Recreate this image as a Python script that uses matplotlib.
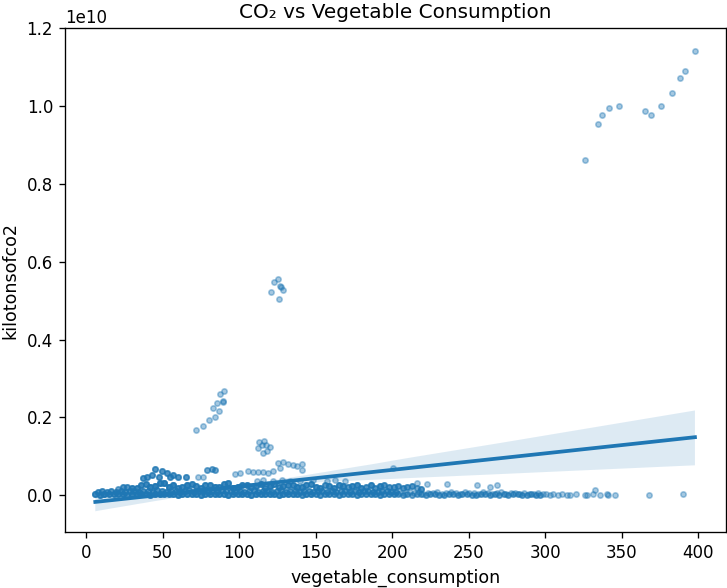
import numpy as np
import pandas as pd
import matplotlib
matplotlib.use("Agg")
import matplotlib.pyplot as plt
import seaborn as sns

# values, y in units of 1e10 kilotons
# top cluster
top_x = [326.1, 334.4, 337.5, 342.0, 348.6, 365.2, 369.5, 376.0, 382.8, 388.4, 391.7, 398.0]
top_y = [0.861, 0.953, 0.976, 0.994, 0.999, 0.986, 0.976, 0.999, 1.033, 1.071, 1.090, 1.141]

# cluster near 0.5
c5_x = [123.1, 125.5, 126.8, 129.0, 127.6, 120.9, 126.1]
c5_y = [0.547, 0.555, 0.537, 0.527, 0.534, 0.521, 0.503]

# cluster near 0.2
c2_x = [71.9, 76.7, 80.6, 84.5, 87.1, 83.2, 85.4, 87.6, 90.4, 89.3, 89.7]
c2_y = [0.167, 0.178, 0.192, 0.201, 0.216, 0.224, 0.236, 0.260, 0.267, 0.242, 0.240]

# cluster near 0.12
c1_x = [112.2, 114.8, 117.6, 120.3, 115.9, 118.5, 113.1, 116.3]
c1_y = [0.120, 0.129, 0.130, 0.124, 0.109, 0.114, 0.136, 0.139]

# cluster near 0.08
c08_x = [125.7, 128.6, 132.2, 135.5, 138.1, 141.4, 141.4, 126.8]
c08_y = [0.083, 0.086, 0.081, 0.077, 0.075, 0.080, 0.064, 0.069]

# scattered points between 0.02 and 0.07 (some overlap several times)
upper_x = [45.1, 49.5, 52.7, 40.1, 43.0, 57.1, 60.3, 65.4, 47.7, 54.9, 37.5,
           78.9, 82.2, 84.3, 73.4, 76.7, 97.4, 100.7,
           106.1, 109.3, 112.6, 115.9, 119.2, 122.4,
           111.6, 115.9, 122.4, 127.9, 133.3, 139.9, 148.6, 157.3, 162.7, 169.3,
           200.8, 222.7, 216.1, 235.7, 255.4, 264.1, 268.4, 332.7]
upper_y = [0.066, 0.062, 0.057, 0.047, 0.051, 0.051, 0.047, 0.047, 0.047, 0.047, 0.043,
           0.064, 0.066, 0.064, 0.046, 0.047, 0.054, 0.056,
           0.062, 0.060, 0.060, 0.060, 0.057, 0.062,
           0.037, 0.039, 0.036, 0.038, 0.037, 0.036, 0.039, 0.036, 0.038, 0.037,
           0.071, 0.028, 0.030, 0.028, 0.026, 0.021, 0.026, 0.013]
upper_n = [3, 3, 3, 3, 3, 3, 3, 3, 3, 3, 3,
           2, 2, 2, 1, 1, 1, 1,
           1, 1, 1, 1, 1, 1,
           1, 1, 1, 1, 1, 1, 1, 1, 1, 1,
           1, 1, 1, 1, 1, 1, 1, 1]

# upper edge of the dense band
sec_x = [21, 24, 27, 30, 33, 36, 39, 42, 45, 48, 51, 54, 57, 60, 63, 66, 69,
         72, 75, 78, 81, 84, 87, 90, 93, 96, 99, 102, 105, 108, 111, 114, 117,
         120, 123, 126, 129, 132, 135, 138, 141, 144, 147, 150, 153, 156, 159,
         162, 165, 168, 171, 174, 177, 180, 183, 186, 189, 192, 195, 198, 201,
         204, 207, 210, 213, 216, 219]
sec_y = [0.016, 0.020, 0.022, 0.018, 0.019, 0.025, 0.028, 0.021, 0.024, 0.030,
         0.031, 0.022, 0.026, 0.019, 0.021, 0.027, 0.029, 0.023, 0.018, 0.025,
         0.025, 0.020, 0.022, 0.028, 0.030, 0.019, 0.020, 0.026, 0.027, 0.022,
         0.024, 0.029, 0.019, 0.023, 0.028, 0.021, 0.023, 0.027, 0.026, 0.020,
         0.021, 0.025, 0.029, 0.022, 0.018, 0.026, 0.024, 0.019, 0.027, 0.023,
         0.020, 0.024, 0.025, 0.019, 0.022, 0.026, 0.019, 0.023, 0.026, 0.020,
         0.021, 0.024, 0.018, 0.020, 0.023, 0.019, 0.017]
sec_n = [2, 3, 3, 4, 4, 4, 4, 5, 5, 5, 5, 5, 5, 4, 4, 5, 4, 4, 4, 4, 4, 5, 4,
         4, 4, 4, 5, 4, 4, 4, 4, 4, 4, 5, 4, 4, 4, 4, 4, 5, 4, 4, 4, 4, 4, 3,
         4, 4, 4, 4, 3, 4, 4, 4, 3, 4, 3, 4, 3, 3, 3, 3, 3, 3, 3, 2, 3]

# dense band at the bottom, lower row
baseA_x = [6, 9, 12, 15, 18, 21, 24, 27, 30,
           33, 36, 39, 42, 45, 48, 51, 54, 57, 60, 63, 66, 69, 72, 75, 78, 81,
           84, 87, 90, 93, 96, 99, 102, 105, 108, 111, 114, 117, 120, 123, 126,
           129, 132, 135, 138, 141, 144, 147,
           150, 153, 156, 159, 162, 165, 168, 171, 174, 177, 180, 183, 186, 189,
           192, 195, 198, 201,
           204, 207, 210, 213, 216, 219, 222, 225, 228, 231, 234, 237, 240, 243,
           246, 249, 252, 255, 258, 261, 264, 267, 270, 273, 276, 279, 282, 285,
           288, 291, 294, 297]
baseA_y = [0.003, 0.001, 0.004, 0.002, 0.004, 0.002, 0.004, 0.001, 0.003,
           0.002, 0.004, 0.003, 0.001, 0.004, 0.003, 0.002, 0.003, 0.004, 0.001,
           0.004, 0.002, 0.003, 0.003, 0.001, 0.004, 0.002, 0.004, 0.003, 0.002,
           0.001, 0.004, 0.002, 0.003, 0.003, 0.001, 0.004, 0.002, 0.002, 0.003,
           0.004, 0.001, 0.004, 0.002, 0.003, 0.003, 0.001, 0.004, 0.002,
           0.003, 0.001, 0.004, 0.002, 0.003, 0.001, 0.003, 0.004, 0.002, 0.001,
           0.004, 0.003, 0.002, 0.004, 0.001, 0.003, 0.002, 0.004,
           0.002, 0.001, 0.003, 0.000, 0.002, 0.004, 0.001, 0.002, 0.003, 0.001,
           0.000, 0.002, 0.004, 0.001, 0.003, 0.002, 0.000, 0.001, 0.003, 0.002,
           0.001, 0.004, 0.000, 0.002, 0.001, 0.003, 0.002, 0.000, 0.001, 0.002,
           0.001, 0.000]
baseA_n = [4, 4, 5, 4, 4, 4, 4, 3, 4,
           4, 4, 4, 4, 4, 5, 4, 4, 4, 4, 4, 4, 4, 4, 4, 4, 4, 4, 4, 4, 4, 4, 4,
           4, 4, 4, 4, 4, 4, 4, 4, 4, 4, 4, 4, 4, 3, 4, 4,
           3, 3, 3, 3, 3, 3, 3, 3, 3, 3, 3, 3, 3, 3, 3, 3, 3, 3,
           2, 2, 2, 2, 2, 2, 2, 2, 2, 2, 2, 2, 2, 2, 2, 2, 2, 2, 2, 2, 2, 2, 2,
           2, 2, 2, 2, 2, 2, 2, 2, 2]

# dense band at the bottom, upper row
baseB_x = [7.5, 10.5, 13.5, 16.5, 19.5, 22.5, 25.5, 28.5, 31.5,
           34.5, 37.5, 40.5, 43.5, 46.5, 49.5, 52.5, 55.5, 58.5, 61.5, 64.5,
           67.5, 70.5, 73.5, 76.5, 79.5, 82.5, 85.5, 88.5, 91.5, 94.5, 97.5,
           100.5, 103.5, 106.5, 109.5, 112.5, 115.5, 118.5, 121.5, 124.5, 127.5,
           130.5, 133.5, 136.5, 139.5, 142.5, 145.5, 148.5,
           151.5, 154.5, 157.5, 160.5, 163.5, 166.5, 169.5, 172.5, 175.5, 178.5,
           181.5, 184.5, 187.5, 190.5, 193.5, 196.5, 199.5, 202.5,
           205.5, 208.5, 211.5, 214.5, 217.5, 220.5, 223.5, 226.5, 229.5, 232.5,
           235.5, 238.5, 241.5, 244.5, 247.5, 250.5, 253.5, 256.5, 259.5, 262.5,
           265.5, 268.5, 271.5, 274.5, 277.5, 280.5, 283.5, 286.5, 289.5, 292.5,
           295.5, 298.5]
baseB_y = [0.008, 0.010, 0.007, 0.011, 0.009, 0.012, 0.008, 0.010, 0.011,
           0.009, 0.012, 0.010, 0.008, 0.013, 0.011, 0.009, 0.012, 0.010, 0.008,
           0.011, 0.013, 0.009, 0.010, 0.012, 0.008, 0.011, 0.009, 0.013, 0.010,
           0.012, 0.008, 0.011, 0.009, 0.010, 0.013, 0.008, 0.012, 0.010, 0.009,
           0.011, 0.013, 0.008, 0.010, 0.012, 0.009, 0.011, 0.010, 0.008,
           0.010, 0.012, 0.008, 0.011, 0.009, 0.010, 0.012, 0.008, 0.011, 0.009,
           0.010, 0.012, 0.008, 0.009, 0.011, 0.010, 0.008, 0.009,
           0.006, 0.004, 0.007, 0.005, 0.008, 0.004, 0.006, 0.005, 0.007, 0.004,
           0.006, 0.008, 0.005, 0.004, 0.007, 0.005, 0.006, 0.004, 0.008, 0.005,
           0.004, 0.006, 0.007, 0.004, 0.005, 0.006, 0.004, 0.005, 0.003, 0.004,
           0.005, 0.003]
baseB_n = [3, 3, 3, 3, 3, 3, 3, 3, 3,
           3, 3, 3, 3, 3, 3, 3, 3, 3, 3, 3, 3, 3, 3, 3, 3, 3, 3, 3, 3, 3, 3, 3,
           3, 3, 3, 3, 3, 3, 3, 3, 3, 3, 3, 3, 3, 3, 3, 3,
           3, 3, 3, 3, 3, 3, 3, 3, 3, 3, 3, 3, 3, 3, 3, 3, 3, 3,
           1, 1, 1, 1, 1, 1, 1, 1, 1, 1, 1, 1, 1, 1, 1, 1, 1, 1, 1, 1, 1, 1, 1,
           1, 1, 1, 1, 1, 1, 1, 1, 1]

# sparse points on the right
right_x = [300.5, 303.3, 305.0, 308.7, 311.0, 314.2, 316.3, 320.0, 326.1,
           327.2, 331.5, 336.0, 340.3, 341.0, 345.8, 368.2, 390.4]
right_y = [0.002, 0.001, 0.003, 0.000, 0.002, 0.001, 0.000, 0.002, 0.001,
           0.000, 0.004, 0.001, 0.002, 0.000, 0.001, 0.000, 0.002]

xs = np.concatenate([top_x, c5_x, c2_x, c1_x, c08_x,
                     np.repeat(upper_x, upper_n), np.repeat(sec_x, sec_n),
                     np.repeat(baseA_x, baseA_n), np.repeat(baseB_x, baseB_n),
                     right_x])
ys = np.concatenate([top_y, c5_y, c2_y, c1_y, c08_y,
                     np.repeat(upper_y, upper_n), np.repeat(sec_y, sec_n),
                     np.repeat(baseA_y, baseA_n), np.repeat(baseB_y, baseB_n),
                     right_y])

df = pd.DataFrame({"vegetable_consumption": xs, "kilotonsofco2": ys * 1e10})

fig, ax = plt.subplots(figsize=(727 / 120, 588 / 120), dpi=120)
fig.subplots_adjust(left=0.089, right=0.998, top=0.952, bottom=0.095)

sns.regplot(data=df, x="vegetable_consumption", y="kilotonsofco2",
            scatter_kws={"alpha": 0.4, "s": 10}, seed=0, ax=ax)
ax.set_xlim(-14, 418)
ax.set_ylim(-0.095e10, 1.2e10)
ax.set_title("CO\u2082 vs Vegetable Consumption", fontsize=12)
ax.set_xlabel("vegetable_consumption", fontsize=10.5)
ax.set_ylabel("kilotonsofco2", fontsize=10.5)

fig.savefig("out.png", dpi=120)
